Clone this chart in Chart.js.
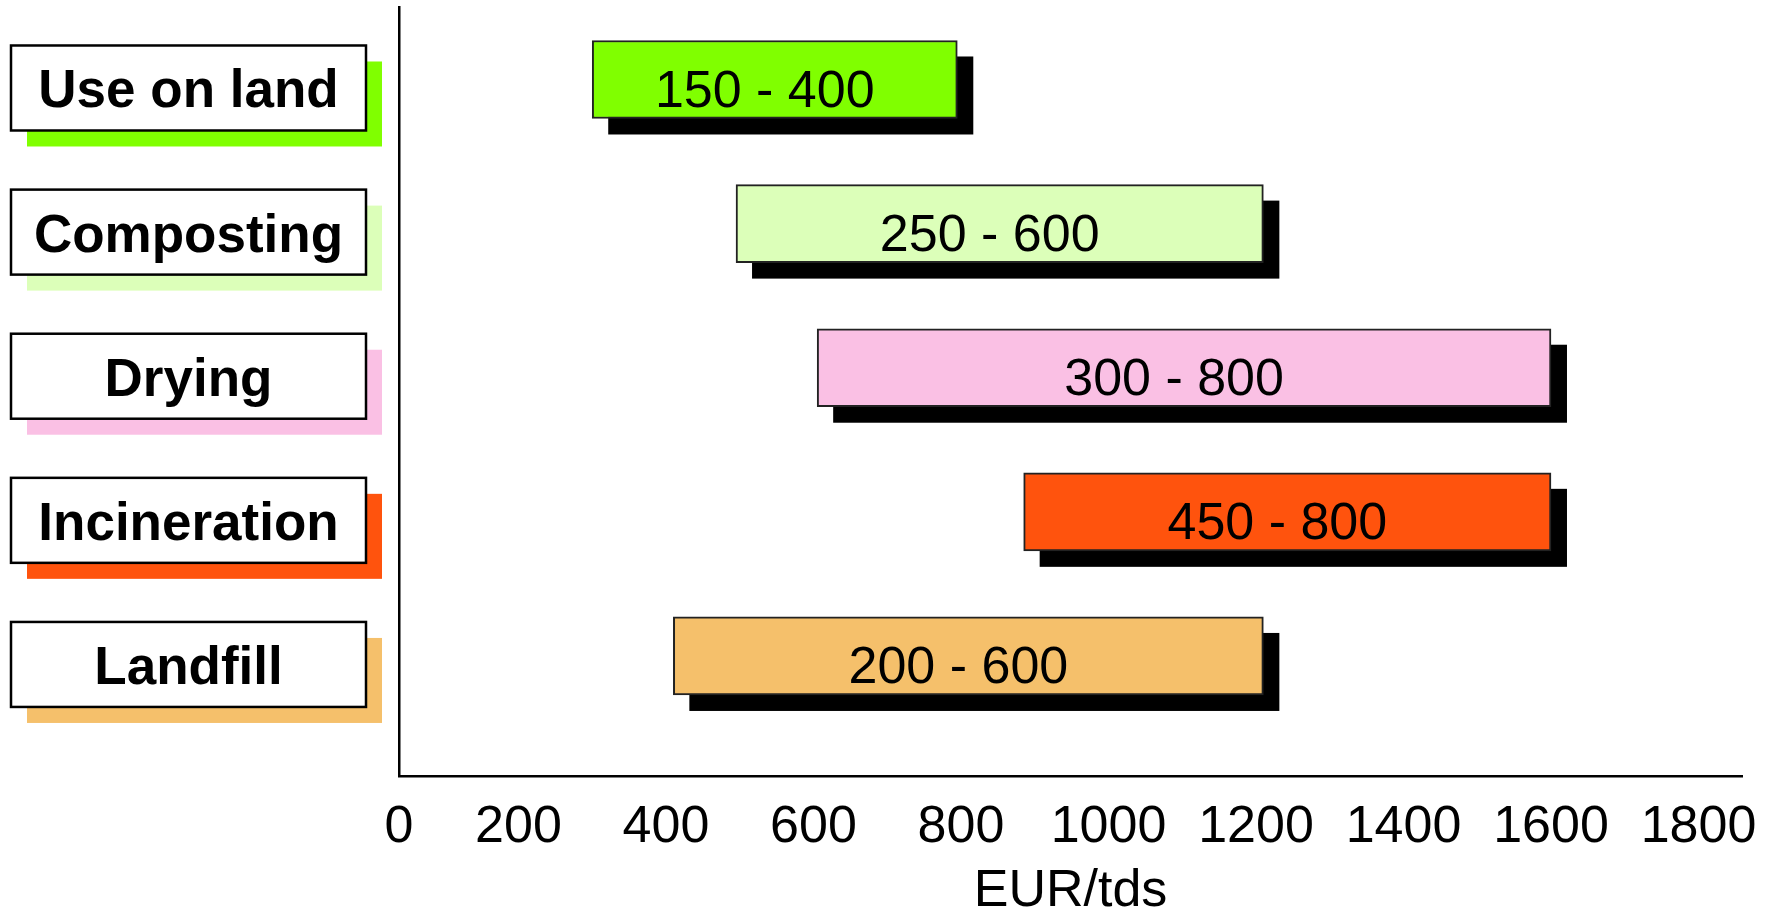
<!DOCTYPE html>
<html>
<head>
<meta charset="utf-8">
<script src="https://cdn.jsdelivr.net/npm/chart.js"></script>
<style>
    html, body { margin: 0; padding: 0; background: #fff; }
    #wrap { width: 1766px; height: 911px; position: relative; }
</style>
</head>
<body>
<div id="wrap"><canvas id="chart"></canvas></div>
<script>
// chart data
const categories = ["Use on land", "Composting", "Drying", "Incineration", "Landfill"];
const rangeLabels = ["150 - 400", "250 - 600", "300 - 800", "450 - 800", "200 - 600"];
const barStart = [300, 495, 605, 885, 410];
const barEnd = [795, 1210, 1600, 1600, 1210];
const barColors = ["#80ff00", "#dcffb9", "#fac0e4", "#ff530d", "#f5c06b"];
const tickLabels = ["0", "200", "400", "600", "800", "1000", "1200", "1400", "1600", "1800"];
const axisMin = 38;   // value where the drawn axis starts
const axisMax = 1859;
const tickValues = [axisMin, 200, 400, 600, 800, 1000, 1200, 1400, 1600, 1800];

const FONT = "'Liberation Sans', Arial, sans-serif";

// black drop shadows behind the bars + range text on them
const barDecor = {
    id: "barDecor",
    beforeDatasetsDraw(chart) {
        const ctx = chart.ctx;
        const meta = chart.getDatasetMeta(0);
        ctx.save();
        ctx.fillStyle = "#000";
        meta.data.forEach(bar => {
            const p = bar.getProps(["x", "y", "base", "height"], true);
            const left = Math.min(p.x, p.base);
            const w = Math.abs(p.x - p.base);
            ctx.fillRect(left + 16, p.y - p.height / 2 + 16, w, p.height);
        });
        ctx.restore();
    },
    afterDatasetsDraw(chart) {
        const ctx = chart.ctx;
        const meta = chart.getDatasetMeta(0);
        ctx.save();
        ctx.fillStyle = "#000";
        ctx.font = "52px " + FONT;
        ctx.textAlign = "center";
        ctx.textBaseline = "middle";
        meta.data.forEach((bar, i) => {
            const p = bar.getProps(["x", "y", "base"], true);
            ctx.fillText(rangeLabels[i], (p.x + p.base) / 2 - 10, p.y + 13);
        });
        ctx.restore();
    }
};

// category name boxes on the left, with coloured shadow
const categoryBoxes = {
    id: "categoryBoxes",
    afterDraw(chart) {
        const ctx = chart.ctx;
        const yScale = chart.scales.y;
        ctx.save();
        categories.forEach((name, i) => {
            const yc = yScale.getPixelForValue(i) + 8.5;
            const top = yc - 42.5;
            ctx.fillStyle = barColors[i];
            ctx.fillRect(27, top + 16, 355, 85);
            ctx.fillStyle = "#fff";
            ctx.fillRect(11, top, 355, 85);
            ctx.lineWidth = 2.5;
            ctx.strokeStyle = "#000";
            ctx.strokeRect(11, top, 355, 85);
            ctx.fillStyle = "#000";
            ctx.font = "bold 53px " + FONT;
            ctx.textAlign = "center";
            ctx.textBaseline = "alphabetic";
            ctx.fillText(name, 188.5, yc + 19.5);
        });
        ctx.restore();
    }
};

new Chart(document.getElementById("chart"), {
    type: "bar",
    data: {
        datasets: [{
            data: categories.map((c, i) => ({ y: i, x: [barStart[i], barEnd[i]] })),
            backgroundColor: barColors,
            borderColor: "#222",
            borderWidth: 2,
            borderSkipped: false,
            barThickness: 78
        }]
    },
    options: {
        indexAxis: "y",
        responsive: true,
        maintainAspectRatio: false,
        animation: false,
        layout: { padding: { top: 7, right: 24, left: 0, bottom: 0 } },
        plugins: {
            legend: { display: false },
            tooltip: { enabled: false }
        },
        scales: {
            x: {
                type: "linear",
                position: "bottom",
                min: axisMin,
                max: axisMax,
                grid: { display: false, drawTicks: false },
                border: { display: true, color: "#000", width: 2.5 },
                afterBuildTicks: s => { s.ticks = tickValues.map(v => ({ value: v })); },
                afterFit: s => {
                    s.height = 135;
                    s.paddingLeft = 0;
                    s.paddingRight = 0;
                },
                ticks: {
                    autoSkip: false,
                    maxRotation: 0,
                    padding: 20,
                    color: "#000",
                    font: { family: FONT, size: 52 },
                    callback: (v, i) => tickLabels[i]
                },
                title: {
                    display: true,
                    text: "EUR/tds",
                    color: "#000",
                    font: { family: FONT, size: 52, lineHeight: 0.76 },
                    padding: 0
                }
            },
            y: {
                type: "linear",
                reverse: true,
                offset: false,
                min: -0.503,
                max: 4.833,
                grid: { display: false, drawTicks: false, offset: false },
                border: { display: true, color: "#000", width: 2.5 },
                ticks: { display: false },
                afterFit: s => { s.width = 399; }
            }
        }
    },
    plugins: [barDecor, categoryBoxes]
});
</script>
</body>
</html>
